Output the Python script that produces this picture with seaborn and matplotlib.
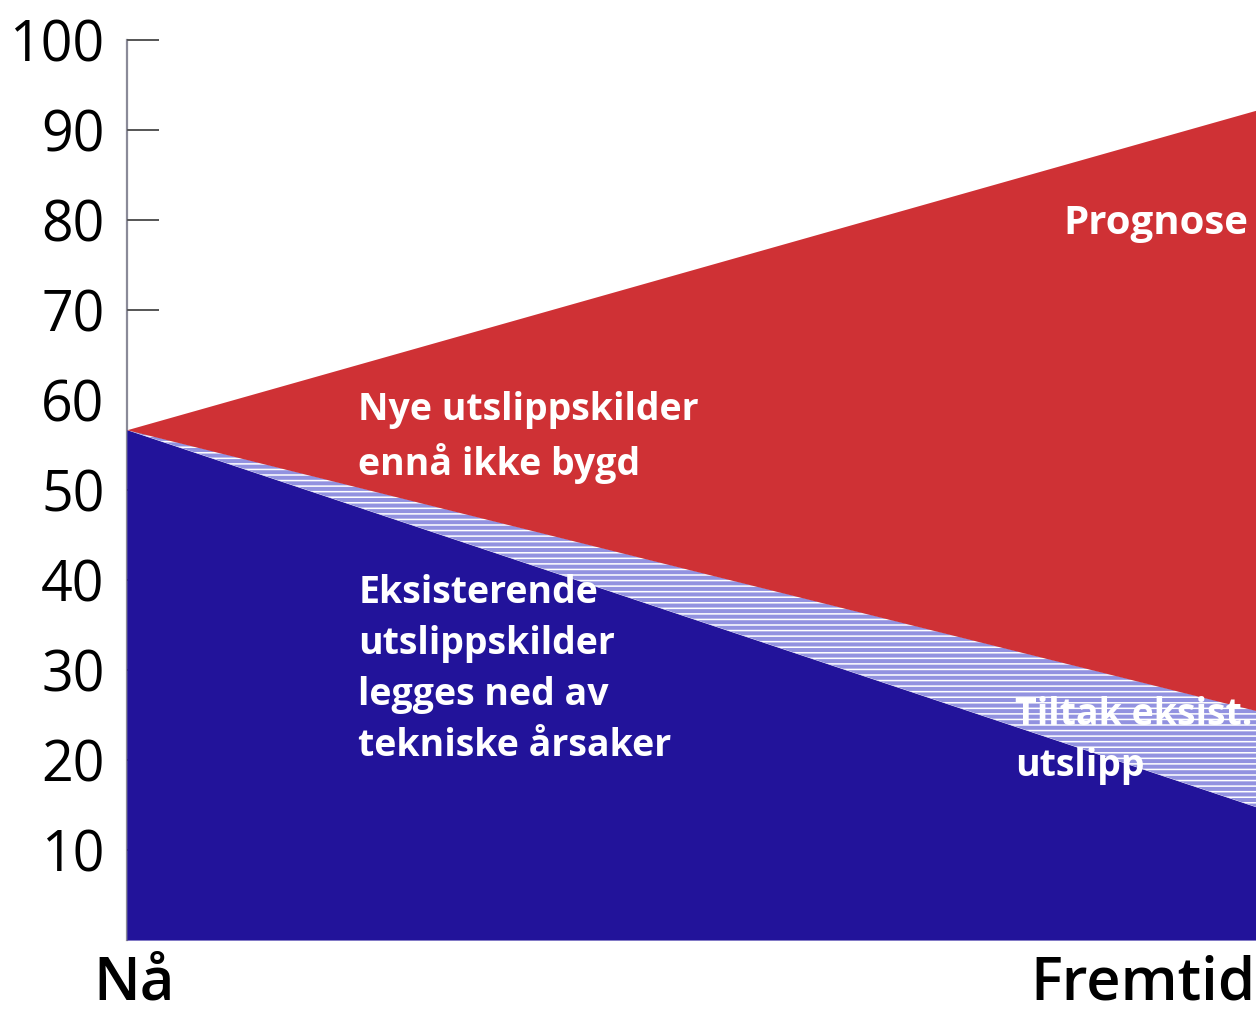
import numpy as np
import matplotlib
matplotlib.use("Agg")
import matplotlib.pyplot as plt
import seaborn as sns

# tidspunkt og verdier lest av figuren
tid = ["Nå", "Fremtid"]
x = [0, 1]
eksisterende = [56.7, 14.8]     # eksisterende utslippskilder (blå)
tiltak = [0.0, 10.7]            # tiltak eksist. utslipp (skravert)
nye = [0.0, 66.7]               # nye utslippskilder / prognose (rød)
y_ticks = [10, 20, 30, 40, 50, 60, 70, 80, 90, 100]

sns.set_theme(style="white")
plt.rcParams["font.family"] = ["Open Sans", "DejaVu Sans"]
plt.rcParams["hatch.color"] = "white"
plt.rcParams["hatch.linewidth"] = 1.1

fig = plt.figure(figsize=(12.56, 10.13), dpi=100)
ax = fig.add_axes([0.101, 0.072, 0.899, 0.8885])

polys = ax.stackplot(x, eksisterende, tiltak, nye,
                     colors=["#22139a", "#9292e0", "#cf3135"], linewidth=0)
polys[1].set_hatch("---")
polys[1].set_edgecolor("white")
polys[1].set_linewidth(0)

ax.set_xlim(0, 1)
ax.set_ylim(0, 100)

for s in ["top", "right", "bottom"]:
    ax.spines[s].set_visible(False)
ax.spines["left"].set_color("#8a8a98")
ax.spines["left"].set_linewidth(1.6)
ax.spines["left"].set_zorder(0.5)

ax.set_yticks(y_ticks)
ax.set_yticklabels([str(v) for v in y_ticks])
ax.tick_params(axis="y", direction="in", length=23, width=1.4, color="#555555",
               pad=16, labelsize=40, labelcolor="black", left=True)
for t in ax.yaxis.get_major_ticks():
    t.tick1line.set_zorder(0.4)
ax.yaxis.get_major_ticks()[5].tick1line.set_visible(False)

# x-etiketter som tekst under aksen
ax.set_xticks([])
xtrans = ax.get_xaxis_transform()
ax.text(x[0] + 0.0066, -0.066, tid[0], transform=xtrans, ha="center", va="baseline",
        fontsize=43, fontweight="semibold", color="black", clip_on=False)
ax.text(x[1], -0.066, tid[1], transform=xtrans, ha="right", va="baseline",
        fontsize=43, fontweight="semibold", color="black", clip_on=False)

tekst = dict(color="white", fontweight="bold", ha="left", va="top", linespacing=1.45)
ax.text(0.205, 61.0, "Nye utslippskilder\nennå ikke bygd", fontsize=27, **tekst)
ax.text(0.205, 40.7, "Eksisterende\nutslippskilder\nlegges ned av\ntekniske årsaker",
        fontsize=27, **tekst)
ax.text(0.829, 81.8, "Prognose", fontsize=29, **tekst)
ax.text(0.787, 27.1, "Tiltak eksist.\nutslipp", fontsize=27, **tekst)

fig.savefig("out.png", dpi=100)
